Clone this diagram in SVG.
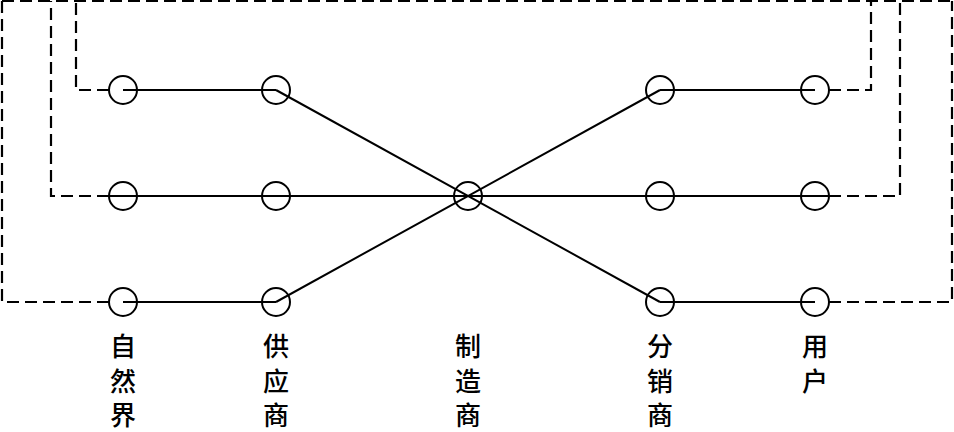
<svg xmlns="http://www.w3.org/2000/svg" width="954" height="432" viewBox="0 0 954 432">
<style>
.solid{stroke:#000;stroke-width:2;fill:none}
.dash{stroke:#000;stroke-width:2.2;fill:none;stroke-dasharray:12 6}
.node{stroke:#000;stroke-width:2;fill:none}
.lbl{font-family:"Noto Sans CJK SC","Noto Sans",sans-serif;font-size:26px;font-weight:500;fill:#000;text-anchor:middle}
</style>
<rect width="954" height="432" fill="#fff"/>
<g id="connectors">
<path class="dash" d="M2,1 H952"/>
<path class="dash" d="M109,90 H76 V1"/>
<path class="dash" d="M109,196 H51 V1"/>
<path class="dash" d="M109,302 H2 V1"/>
<path class="dash" d="M829,90 H871 V1"/>
<path class="dash" d="M829,196 H900 V1"/>
<path class="dash" d="M829,302 H952 V1"/>
<path class="solid" d="M123,90 H276"/>
<path class="solid" d="M660,90 H815"/>
<path class="solid" d="M109,196 H829"/>
<path class="solid" d="M123,302 H276"/>
<path class="solid" d="M660,302 H815"/>
<path class="solid" d="M276,90 L660,302"/>
<path class="solid" d="M276,302 L660,90"/>
</g>
<g id="nature">
<circle class="node" cx="123" cy="90" r="14"/>
<circle class="node" cx="123" cy="196" r="14"/>
<circle class="node" cx="123" cy="302" r="14"/>
<text class="lbl" x="123" y="356">自</text>
<text class="lbl" x="123" y="391">然</text>
<text class="lbl" x="123" y="425">界</text>
</g>
<g id="supplier">
<circle class="node" cx="276" cy="90" r="14"/>
<circle class="node" cx="276" cy="196" r="14"/>
<circle class="node" cx="276" cy="302" r="14"/>
<text class="lbl" x="276" y="356">供</text>
<text class="lbl" x="276" y="391">应</text>
<text class="lbl" x="276" y="425">商</text>
</g>
<g id="manufacturer">
<circle class="node" cx="468" cy="196" r="14"/>
<text class="lbl" x="468" y="356">制</text>
<text class="lbl" x="468" y="391">造</text>
<text class="lbl" x="468" y="425">商</text>
</g>
<g id="distributor">
<circle class="node" cx="660" cy="90" r="14"/>
<circle class="node" cx="660" cy="196" r="14"/>
<circle class="node" cx="660" cy="302" r="14"/>
<text class="lbl" x="660" y="356">分</text>
<text class="lbl" x="660" y="391">销</text>
<text class="lbl" x="660" y="425">商</text>
</g>
<g id="user">
<circle class="node" cx="815" cy="90" r="14"/>
<circle class="node" cx="815" cy="196" r="14"/>
<circle class="node" cx="815" cy="302" r="14"/>
<text class="lbl" x="815" y="356">用</text>
<text class="lbl" x="815" y="391">户</text>
</g>
</svg>
